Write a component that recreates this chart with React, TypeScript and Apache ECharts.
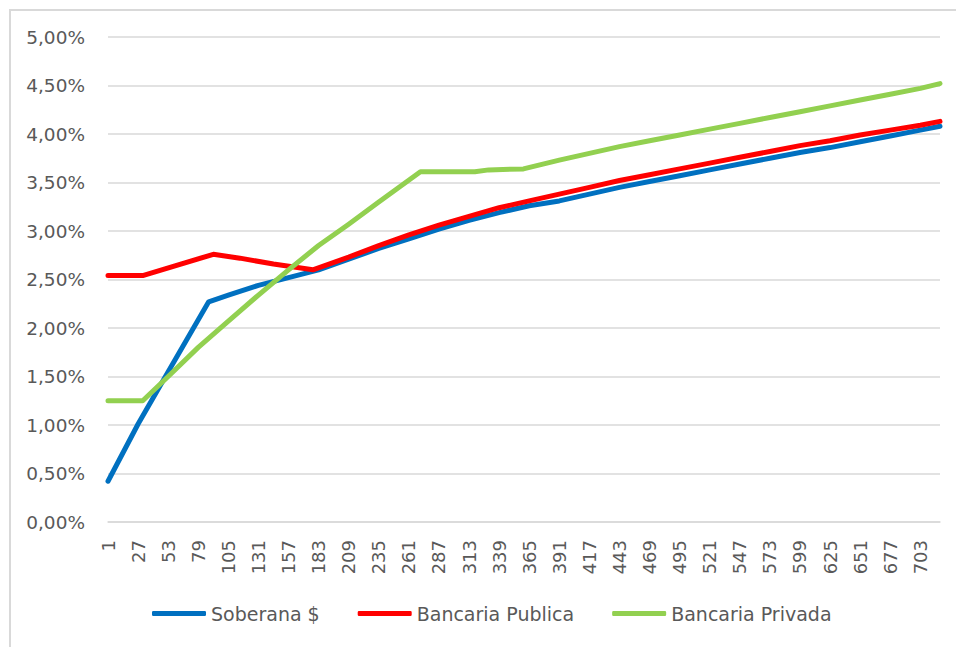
import React, { useEffect, useRef } from "react";
import * as echarts from "echarts";

// Category axis: days 1..720
const days: string[] = Array.from({ length: 720 }, (_, i) => String(i + 1));

// Soberana $ (values in %)
const soberanaDays = [1, 27, 53, 88, 105, 131, 157, 183, 209, 235, 261, 287, 313, 339, 365, 391, 417, 443, 469, 495, 521, 547, 573, 599, 625, 651, 677, 703, 720];
const soberanaValues = [0.42, 1.01, 1.55, 2.27, 2.34, 2.44, 2.52, 2.6, 2.71, 2.82, 2.92, 3.02, 3.11, 3.19, 3.26, 3.31, 3.38, 3.45, 3.51, 3.57, 3.63, 3.69, 3.75, 3.81, 3.86, 3.92, 3.98, 4.04, 4.08];

// Bancaria Publica (values in %)
const publicaDays = [1, 31, 92, 115, 144, 178, 209, 235, 261, 287, 313, 339, 365, 391, 417, 443, 469, 495, 521, 547, 573, 599, 625, 651, 677, 703, 720];
const publicaValues = [2.54, 2.54, 2.76, 2.72, 2.66, 2.6, 2.73, 2.85, 2.96, 3.06, 3.15, 3.24, 3.31, 3.38, 3.45, 3.52, 3.58, 3.64, 3.7, 3.76, 3.82, 3.88, 3.93, 3.99, 4.04, 4.09, 4.13];

// Bancaria Privada (values in %)
const privadaDays = [1, 31, 53, 79, 105, 131, 157, 183, 209, 235, 271, 318, 330, 360, 391, 417, 443, 469, 495, 521, 547, 573, 599, 625, 651, 677, 703, 720];
const privadaValues = [1.25, 1.25, 1.5, 1.8, 2.07, 2.34, 2.6, 2.85, 3.07, 3.3, 3.61, 3.61, 3.63, 3.64, 3.73, 3.8, 3.87, 3.93, 3.99, 4.05, 4.11, 4.17, 4.23, 4.29, 4.35, 4.41, 4.47, 4.52];

const seriesNames = ["Soberana $", "Bancaria Publica", "Bancaria Privada"];
const seriesColors = ["#0070C0", "#FF0000", "#92D050"];

const FONT = "DejaVu Sans";

const toPairs = (d: number[], v: number[]) => d.map((day, i) => [String(day), v[i]]);

export default function App() {
  const ref = useRef<HTMLDivElement>(null);
  useEffect(() => {
    if (!ref.current) return;
    const chart = echarts.init(ref.current, null, { renderer: "svg" });
    const dataSets = [
      toPairs(soberanaDays, soberanaValues),
      toPairs(publicaDays, publicaValues),
      toPairs(privadaDays, privadaValues),
    ];
    chart.setOption({
      animation: false,
      backgroundColor: "#ffffff",
      grid: { left: 108, right: 16, top: 37, bottom: 125, containLabel: false },
      xAxis: {
        type: "category",
        data: days,
        boundaryGap: false,
        axisLine: { lineStyle: { color: "#d9d9d9", width: 1.5 } },
        axisTick: { show: false },
        splitLine: { show: false },
        axisLabel: {
          interval: 25,
          rotate: 90,
          margin: 18,
          color: "#595959",
          fontFamily: FONT,
          fontSize: 18,
        },
      },
      yAxis: {
        type: "value",
        min: 0,
        max: 5,
        interval: 0.5,
        axisLine: { show: false },
        axisTick: { show: false },
        splitLine: { lineStyle: { color: "#d9d9d9", width: 1.5 } },
        axisLabel: {
          margin: 23,
          color: "#595959",
          fontFamily: FONT,
          fontSize: 18.5,
          formatter: (v: number) => v.toFixed(2).replace(".", ",") + "%",
        },
      },
      legend: {
        left: 147,
        top: 599,
        itemWidth: 54,
        itemHeight: 5,
        itemGap: 38,
        icon: "roundRect",
        textStyle: { color: "#595959", fontFamily: FONT, fontSize: 19 },
        data: seriesNames,
      },
      graphic: [
        { type: "line", shape: { x1: 10, y1: 10, x2: 10, y2: 647 }, style: { stroke: "#d9d9d9", lineWidth: 2 } },
        { type: "line", shape: { x1: 9, y1: 10, x2: 956, y2: 10 }, style: { stroke: "#d9d9d9", lineWidth: 2 } },
      ],
      series: seriesNames.map((name, i) => ({
        name,
        type: "line",
        data: dataSets[i],
        symbol: "none",
        showSymbol: false,
        color: seriesColors[i],
        lineStyle: { color: seriesColors[i], width: 5, cap: "round", join: "round" },
        z: 2 + i,
      })),
    });
    return () => chart.dispose();
  }, []);
  return (
    <div
      ref={ref}
      style={{ position: "absolute", left: 0, top: 0, width: 956, height: 647 }}
    />
  );
}
